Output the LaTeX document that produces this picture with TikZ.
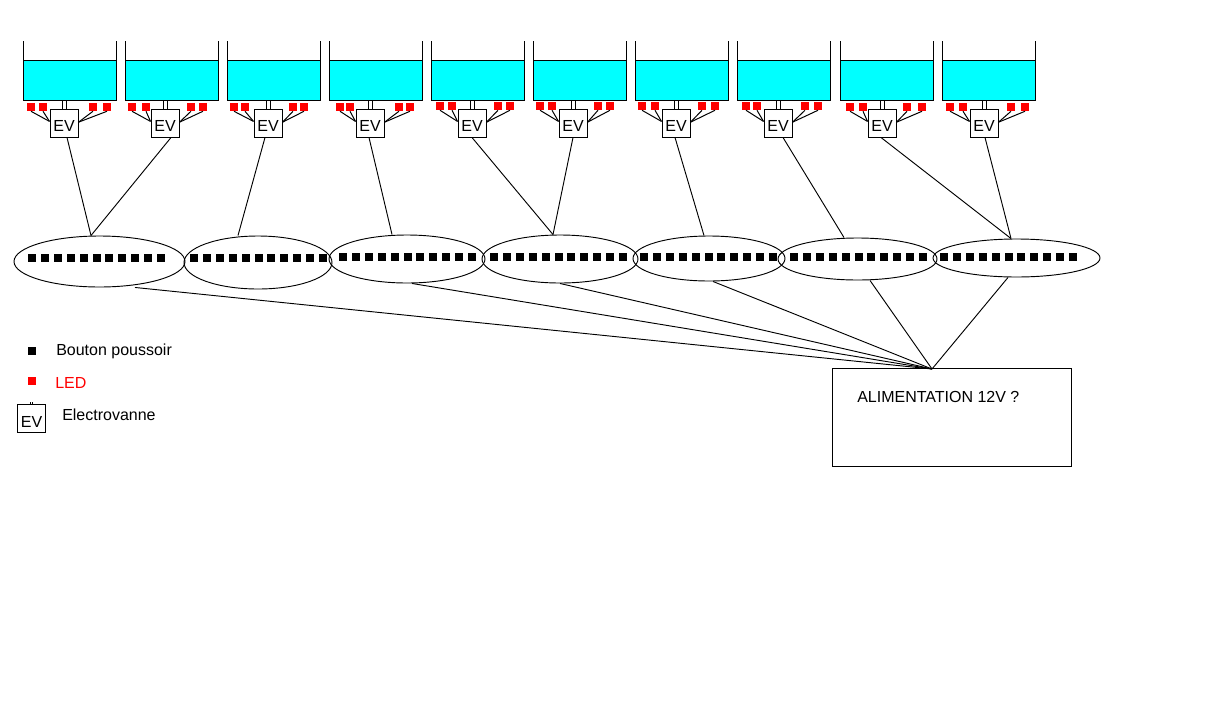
\documentclass[tikz,border=0pt]{standalone}
\usepackage{fontspec}
\setmainfont{Liberation Sans}
\usetikzlibrary{shapes.geometric,calc}
\definecolor{aqua}{RGB}{0,255,255}
\tikzset{
  ln/.style={draw=black,line width=0.75pt},
  thin ln/.style={draw=black,line width=0.7pt},
  evbox/.style={draw=black,line width=0.75pt,fill=white,minimum width=21pt,minimum height=21pt,inner sep=0pt,text height=13pt,text depth=0pt,font=\fontsize{12pt}{14pt}\selectfont},
  led/.style={fill=red,draw=none,minimum width=6pt,minimum height=6pt,inner sep=0pt},
  btn/.style={fill=black,draw=none,minimum width=6pt,minimum height=6pt,inner sep=0pt},
  grp/.style={draw=black,line width=0.7pt,ellipse,inner sep=0pt},
  lab/.style={anchor=west,inner sep=0pt,font=\fontsize{12pt}{14pt}\selectfont},
}
\begin{document}
\begin{tikzpicture}[x=0.75pt,y=-0.75pt]
\useasboundingbox (0,0) rectangle (1223,718);
% tanks, valves and LEDs
\foreach \i/\tx/\ex/\la/\lb/\lc/\ld/\ly in {
 1/23/50/27/39/89/103/103,
 2/125/151/128/142/187/199/103,
 3/227/254/230/241/289/300/103,
 4/329/356/336/346/395/406/103,
 5/431/458/436/448/494/506/102,
 6/533/559/536/548/594/606/102,
 7/635/662/638/651/698/711/102,
 8/737/764/742/753/801/814/102,
 9/840/868/846/859/903/918/103,
 10/942/970/946/959/1007/1021/103}{
  \fill[aqua] (\tx,60) rectangle (\tx+93,100);
  \draw[ln] (\tx,41) -- (\tx,100) -- (\tx+93,100) -- (\tx+93,41);
  \draw[ln] (\tx,60) -- (\tx+93,60);
  \draw[ln] (\ex+12,100) -- (\ex+12,109) (\ex+16,100) -- (\ex+16,109);
  \node[evbox] (ev\i) at (\ex+14,123) {EV};
  \node[led] (la\i) at (\la+4,\ly+4) {};
  \node[led] (lb\i) at (\lb+4,\ly+4) {};
  \node[led] (lc\i) at (\lc+4,\ly+4) {};
  \node[led] (ld\i) at (\ld+4,\ly+4) {};
  \draw[ln] (la\i.south) -- ([yshift=1.2pt]ev\i.west);
  \draw[ln] (lb\i.south) -- ([yshift=1.2pt]ev\i.west);
  \draw[ln] (lc\i.south) -- ([yshift=0.6pt]ev\i.east);
  \draw[ln] (ld\i.south) -- ([yshift=0.6pt]ev\i.east);
}
% button groups
\foreach \i/\cx/\cy/\w/\h/\bx/\by in {
 1/99.5/261.5/171/51/28/254,
 2/258/262.5/148/53/190/254,
 3/407/259/156/48/339/253,
 4/560/259/156/48/490/253,
 5/709/258.5/152/45/640/253,
 6/857.5/259/159/42/790/253,
 7/1016.5/258/167/38/940/253}{
  \node[grp,minimum width=\w*0.75pt,minimum height=\h*0.75pt] (g\i) at (\cx,\cy) {};
  \foreach \k in {0,...,10}{
    \node[btn] (b\i-\k) at (\bx+4+\k*12.9,\by+4) {};
  }
}
% power supply
\node[draw=black,line width=0.75pt,minimum width=179.25pt,minimum height=73.5pt,inner sep=0pt] (psu) at (951.5,417) {};
\node[lab] (psulab) at (857,397) {ALIMENTATION 12V ?};
\coordinate (pin) at (932,369);
% valve to group
\foreach \e/\ed/\g/\gd in {1/3/1/-8.5,2/6/1/-8.5,3/-3/2/-20,4/-1/3/-15,5/0/4/-7,6/0/4/-7,7/-1/5/-5,8/5/6/-13.5,9/-1/7/-5.5,10/1/7/-5.5}{
  \draw[thin ln] ([xshift=\ed*0.75pt]ev\e.south) -- ([xshift=\gd*0.75pt]g\g.north);
}
% group to power supply
\foreach \g/\gd in {1/35.5,3/5,4/0,5/4,6/12.5,7/-8.5}{
  \draw[thin ln] ([xshift=\gd*0.75pt]g\g.south) -- (pin);
}
% legend
\node[btn] (lgb) at (32,351) {};
\node[lab] (lgbt) at (56,351) {Bouton poussoir};
\node[led] (lgl) at (32,381) {};
\node[lab,text=red] (lglt) at (55,383) {LED};
\node[evbox] (lgev) at (31.5,418.5) {EV};
\draw[ln] ([xshift=-1pt]lgev.north) -- +(0,-2) ([xshift=1pt]lgev.north) -- +(0,-2);
\node[lab] (lgevt) at (62,415) {Electrovanne};
\end{tikzpicture}
\end{document}
